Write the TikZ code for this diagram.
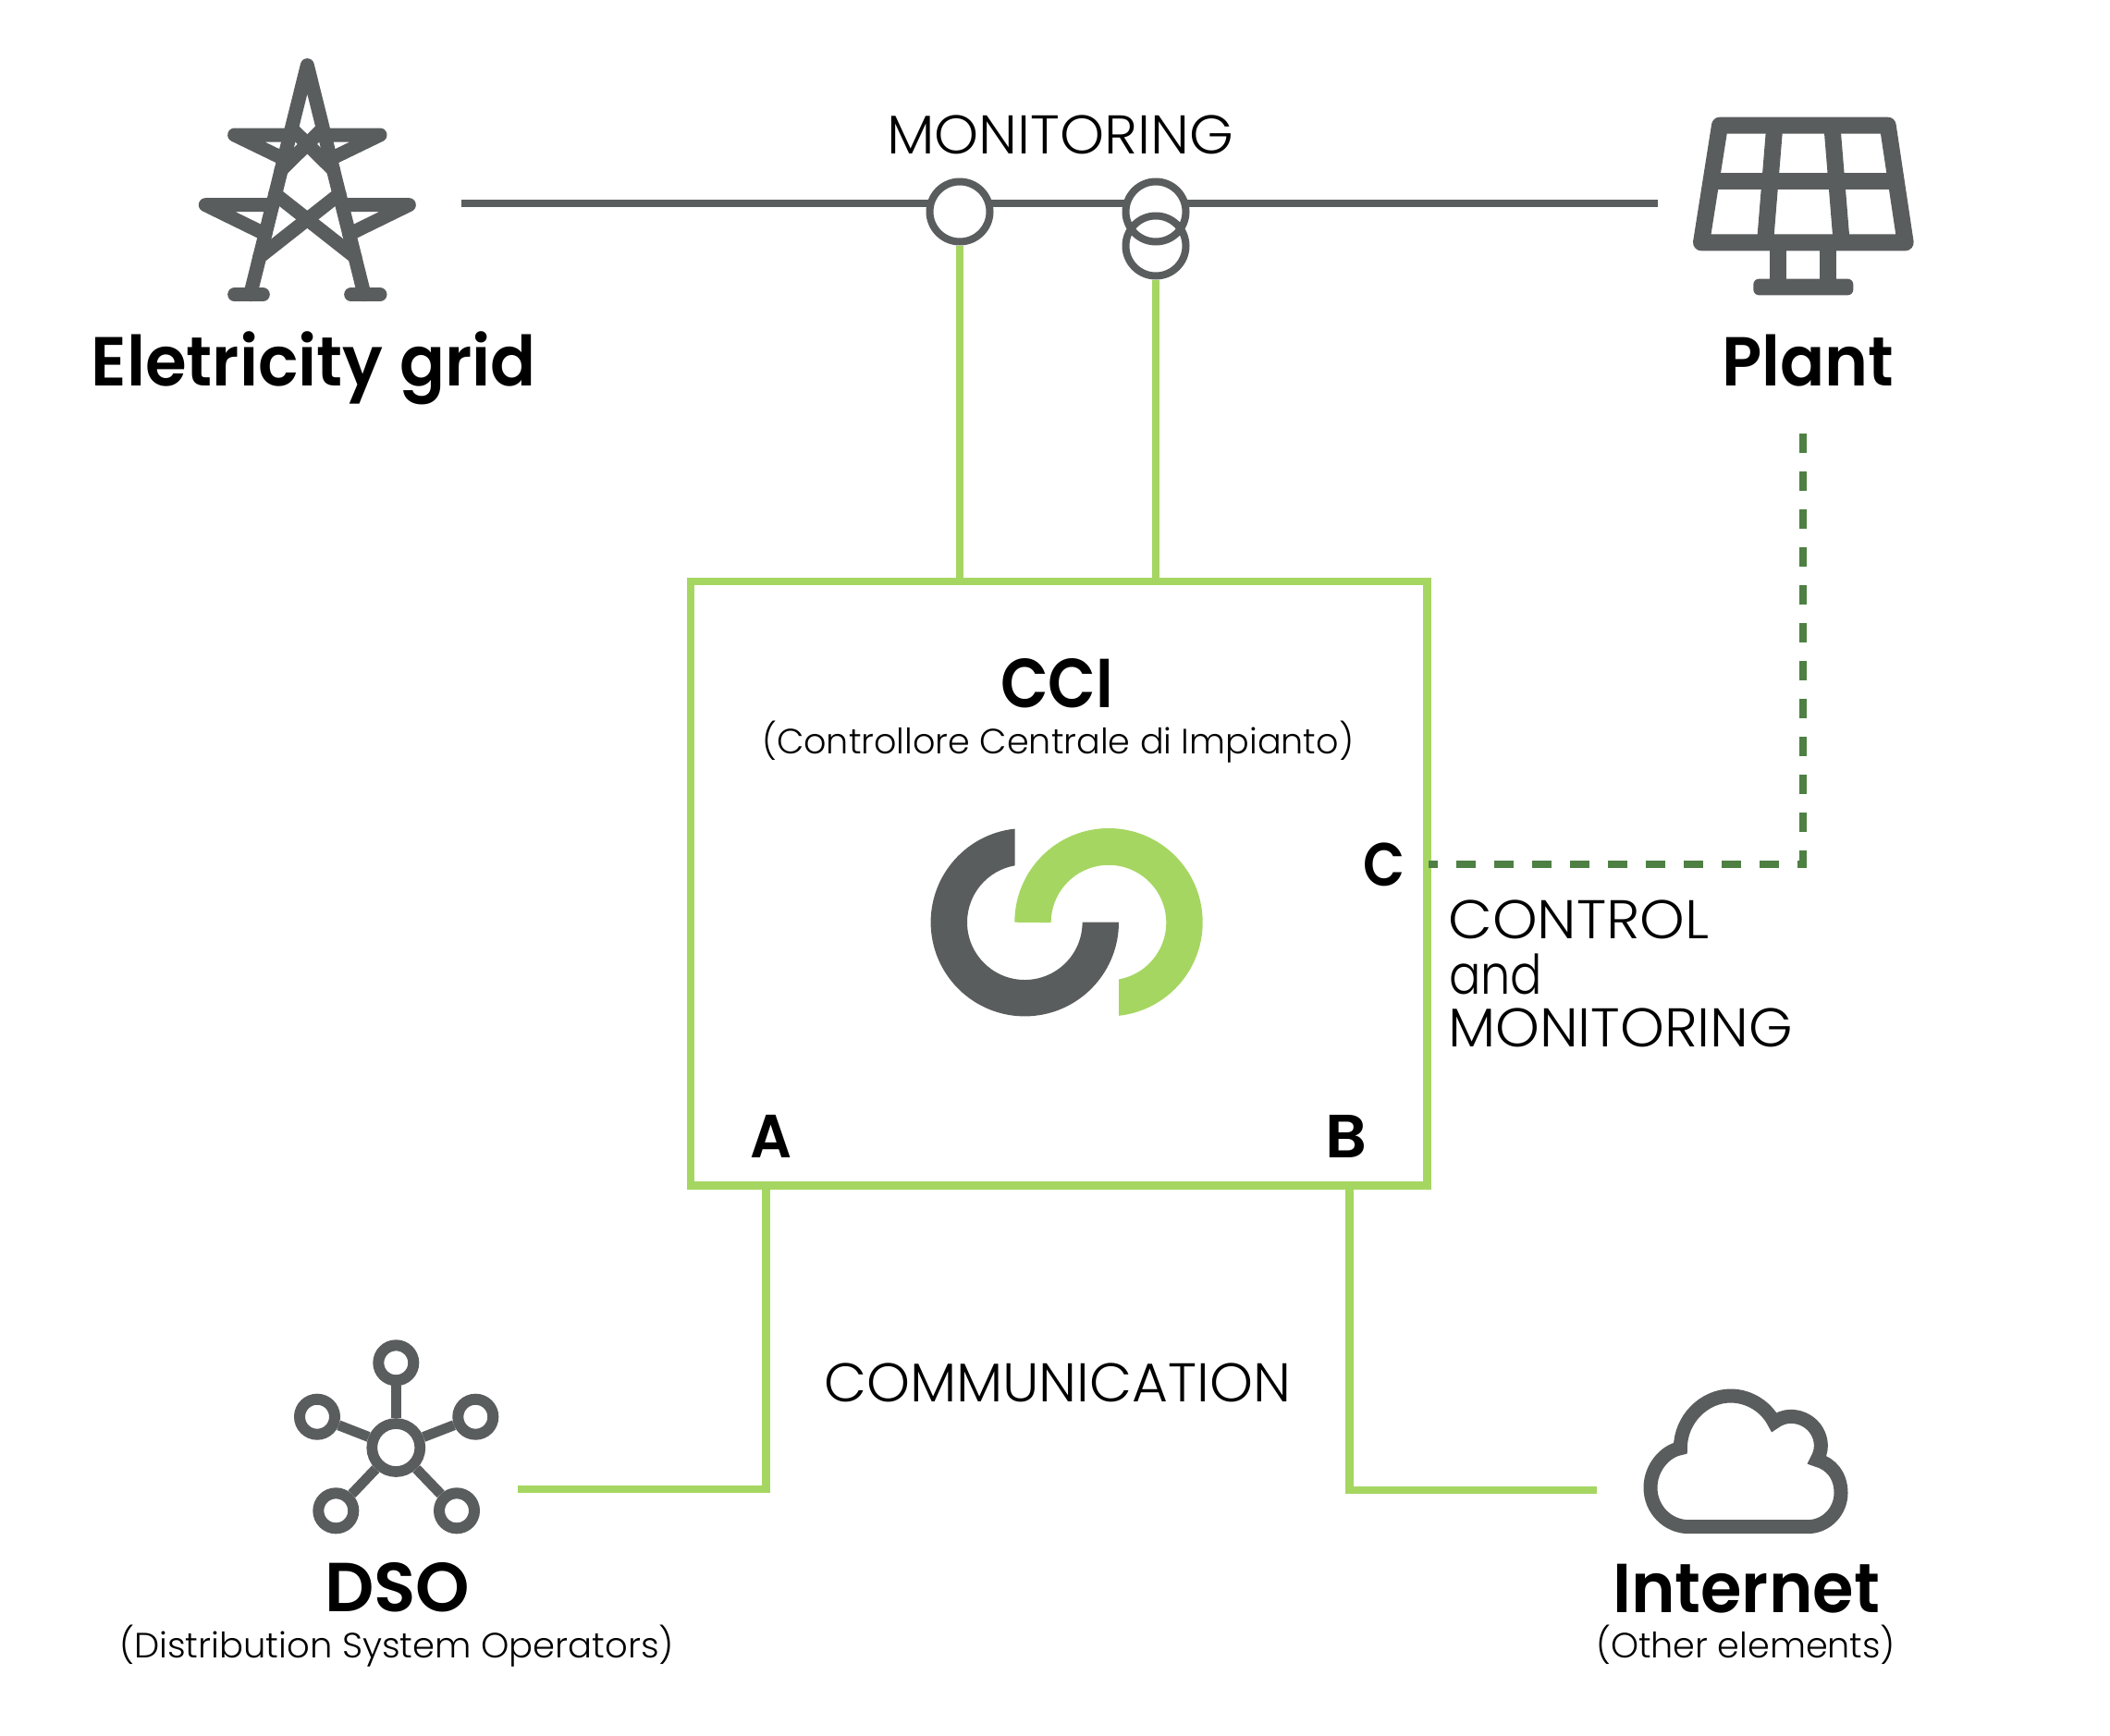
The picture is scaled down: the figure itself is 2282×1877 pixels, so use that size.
\documentclass[tikz,border=0pt]{standalone}
\usepackage{fontspec}
\usepackage{graphicx}
\setmainfont{Poppins}
\newfontfamily\lightf{Poppins Light}
\newfontfamily\boldf{Poppins SemiBold}
\definecolor{icon}{HTML}{5A5D5E}
\definecolor{lime}{HTML}{A6D662}
\definecolor{forest}{HTML}{4E8044}
% #1 target width, #2 font size, #3 text
\newcommand{\regtext}[3]{\resizebox{#1pt}{\height}{\fontsize{#2}{#2}\lightf #3}}
\newcommand{\hvytext}[3]{\resizebox{#1pt}{\height}{\fontsize{#2}{#2}\boldf #3}}
\tikzset{
  lab/.style={inner sep=0pt,outer sep=0pt,anchor=base west,text=black},
  iconline/.style={draw=icon,line width=15pt,line cap=round,line join=round},
  panelline/.style={draw=icon,line width=18pt,line join=round},
  busline/.style={draw=icon,line width=8.5pt},
  sensor/.style={circle,draw=icon,line width=8pt,minimum size=65pt,inner sep=0pt,outer sep=4pt},
  hub/.style={circle,draw=icon,line width=11.7pt,minimum size=52pt,inner sep=0pt},
  sat/.style={circle,draw=icon,line width=12pt,minimum size=38pt,inner sep=0pt},
  spoke/.style={draw=icon,line width=11pt},
  link/.style={draw=lime,line width=8.5pt},
  ctrl/.style={draw=forest,line width=8.5pt,dash pattern=on 21pt off 20pt,dash phase=11pt},
}
\begin{document}
\begin{tikzpicture}[x=1pt,y=-1pt]
\useasboundingbox (0,0) rectangle (2282,1877);
% box
\node[draw=lime,line width=8.5pt,minimum width=796.5pt,minimum height=653.5pt,inner sep=0pt] (box) at (1145.25,955.75) {};
% bus
\coordinate (gridEnd) at (499,220);
\coordinate (plantEnd) at (1793,220);
\node[sensor] (c1) at (1038,229) {};
\node[sensor] (c2) at (1250,229) {};
\node[sensor] (c3) at (1250,266) {};
\draw[busline,shorten >=-3pt] (gridEnd) -- (gridEnd -| c1.west);
\draw[busline,shorten <=-3pt,shorten >=-3pt] (gridEnd -| c1.east) -- (gridEnd -| c2.west);
\draw[busline,shorten <=-3pt] (gridEnd -| c2.east) -- (plantEnd);
\draw[link] (c1.south) -- (c1.south |- box.north);
\draw[link] (c3.south) -- (c3.south |- box.north);
% control line
\coordinate (ctlStart) at (1545,935);
\coordinate (ctlTurn) at (1950,935);
\coordinate (ctlEnd) at (1950,468);
\draw[ctrl] (ctlStart) -- (ctlTurn) -- (ctlEnd);
% communication
\coordinate (dsoEnd) at (560,1611);
\coordinate (dsoTurn) at (828.5,1611);
\coordinate (netEnd) at (1727,1612);
\coordinate (netTurn) at (1459.5,1612);
\draw[link] (dsoEnd) -- (dsoTurn) -- (dsoTurn |- box.south);
\draw[link] (netEnd) -- (netTurn) -- (netTurn |- box.south);
% tower
\begin{scope}[shift={(180,40)},x=.33333pt,y=-.33333pt]
  \draw[iconline] (272,836) -- (457,92) -- (642,836);
  \draw[iconline] (221,836) -- (313,836);
  \draw[iconline] (599,836) -- (693,836);
  \draw[iconline] (384,397) -- (221,318) -- (401,318);
  \draw[iconline] (513,318) -- (693,318) -- (530,397);
  \draw[iconline] (321,640) -- (127,545) -- (344,545);
  \draw[iconline] (570,545) -- (787,545) -- (593,640);
  \draw[iconline] (505,300) -- (372,432);
  \draw[iconline] (409,300) -- (542,432);
  \draw[iconline] (353,510) -- (612,714);
  \draw[iconline] (561,510) -- (302,714);
\end{scope}
% panel
\begin{scope}[shift={(1820,100)},x=.33333pt,y=-.33333pt]
  \draw[panelline] (120,107) -- (665,107) -- (722,487) -- (60,487) -- cycle;
  \draw[panelline] (91,289) -- (693,289);
  \draw[panelline] (298,107) -- (267,487);
  \draw[panelline] (484,107) -- (515,487);
  \draw[panelline] (310,487) -- (310,631);
  \draw[panelline] (472,487) -- (472,631);
  \fill[icon,rounded corners=6pt] (229,605) rectangle (553,658);
\end{scope}
% logo
\fill[icon] (1108.3,997.7) ++(96:101.7pt) arc[start angle=96,end angle=360,radius=101.7pt] -- ++(-39.4pt,0pt) arc[start angle=360,end angle=99.9,radius=62.3pt] -- cycle;
\fill[lime] (1199,997.7) ++(180:101.7pt) arc[start angle=180,end angle=-83.8,radius=101.7pt] -- ++(0pt,39.4pt) arc[start angle=-79.8,end angle=180,radius=62.3pt] -- cycle;
% network icon
\node[hub] (n0) at (428.3,1566) {};
\node[sat] (n1) at (428.3,1474.3) {};
\node[sat] (n2) at (343,1532.7) {};
\node[sat] (n3) at (514.3,1532.7) {};
\node[sat] (n4) at (363.3,1634.3) {};
\node[sat] (n5) at (494,1634.3) {};
\foreach \s in {n1,n2,n3,n4,n5} \draw[spoke] (n0) -- (\s);
% cloud
\begin{scope}[shift={(1760,1490)},x=.33333pt,y=-.33333pt]
  \draw[draw=icon,line width=15pt,miter limit=10] (200,485) -- (585,485)
    .. controls (645,485) and (693,435) .. (693,375)
    .. controls (693,318) and (660,280) .. (615,268)
    .. controls (622,255) and (628,240) .. (628,222)
    .. controls (628,170) and (585,127) .. (530,127)
    .. controls (510,127) and (490,135) .. (476,146)
    .. controls (450,95) and (395,60) .. (335,60)
    .. controls (250,60) and (172,135) .. (172,230)
    .. controls (120,240) and (75,295) .. (75,358)
    .. controls (75,428) and (130,485) .. (200,485) -- cycle;
\end{scope}
% labels
\node[lab] (tMon) at (959,166.3) {\regtext{375}{59}{MONITORING}};
\node[lab] (tGrid) at (98.5,417.7) {\hvytext{481}{75}{Eletricity grid}};
\node[lab,anchor=base] (tPlant) at (1955,417.7) {\hvytext{186}{75}{Plant}};
\node[lab,anchor=base] (tCCI) at (1143,765) {\hvytext{122}{75}{CCI}};
\node[lab] (tCCIsub) at (824,815) {\regtext{640}{38}{(Controllore Centrale di Impianto)}};
\node[lab] (tC) at (1474,958) {\hvytext{45}{66}{C}};
\node[lab] (tA) at (811,1252.7) {\hvytext{45}{66}{A}};
\node[lab] (tB) at (1433,1252.7) {\hvytext{45}{66}{B}};
\node[lab] (tCtl1) at (1566.5,1015.7) {\regtext{282}{59}{CONTROL}};
\node[lab] (tCtl2) at (1567,1075) {\regtext{101}{59}{and}};
\node[lab] (tCtl3) at (1566,1132.7) {\regtext{373}{59}{MONITORING}};
\node[lab] (tComm) at (891,1516.7) {\regtext{505}{59}{COMMUNICATION}};
\node[lab] (tDSO) at (351,1743) {\hvytext{157}{75}{DSO}};
\node[lab] (tDSOsub) at (129,1793) {\regtext{600}{38}{(Distribution System Operators)}};
\node[lab] (tNet) at (1744,1744) {\hvytext{289}{75}{Internet}};
\node[lab] (tNetsub) at (1726,1793) {\regtext{324}{38}{(Other elements)}};
\end{tikzpicture}
\end{document}
